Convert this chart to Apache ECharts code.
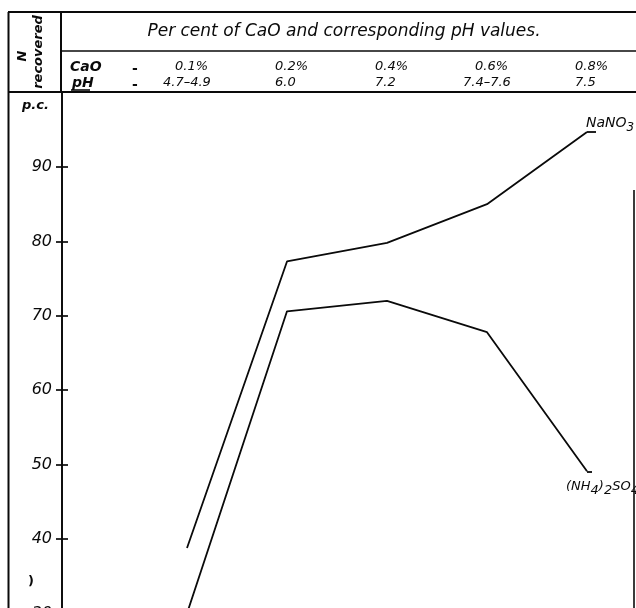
<!DOCTYPE html>
<html><head><meta charset="utf-8">
<script src="https://cdn.jsdelivr.net/npm/echarts@6/dist/echarts.min.js"></script>
<style>html,body{margin:0;padding:0;background:#fff}#c{width:636px;height:608px}</style>
</head><body><div id="c"></div>
<script>
// ---- data ----
const caoLabels = ['0.1%', '0.2%', '0.4%', '0.6%', '0.8%'];
const phLabels = ['4.7–4.9', '6.0', '7.2', '7.4–7.6', '7.5'];
const catIndex = [1, 2, 3, 4, 5];            // evenly spaced positions of the CaO levels
const nano3 = [38.8, 77.3, 79.8, 85.0, 94.7];
const nh4so4 = [30.0, 70.6, 72.0, 67.8, 49.1];
const yTicks = [30, 40, 50, 60, 70, 80, 90];

const INK = '#0a0a0a';
const FONT = 'DejaVu Sans';
const chart = echarts.init(document.getElementById('c'), null, {renderer: 'canvas'});

const pairs = arr => arr.map((v, i) => [catIndex[i], v]);
const lastIdx = catIndex.length - 1;

function yAxisDef(inside, showLabel) {
  return {
    type: 'value', min: 20, max: 100, interval: 10, position: 'left', offset: 0,
    axisLine: {show: true, onZero: false, lineStyle: {color: INK, width: 1.7}},
    axisTick: {show: true, inside: inside, length: 6, customValues: yTicks, lineStyle: {color: INK, width: 1.7}},
    axisLabel: {show: showLabel, customValues: yTicks, margin: 10, color: INK, fontFamily: FONT, fontStyle: 'italic', fontSize: 16},
    splitLine: {show: false}
  };
}

function lineSeries(name, values, stubLen) {
  const last = values[lastIdx];
  return {
    name: name, type: 'line', data: pairs(values), symbol: 'none', smooth: false,
    lineStyle: {color: INK, width: 1.8}, clip: true, silent: true,
    markLine: {
      symbol: 'none', silent: true, animation: false,
      label: {show: false},
      lineStyle: {color: INK, width: 1.8, type: 'solid'},
      data: [[{coord: [catIndex[lastIdx], last]}, {coord: [catIndex[lastIdx] + stubLen, last]}]]
    }
  };
}

chart.setOption({
  animation: false,
  backgroundColor: '#fff',
  grid: {left: 62, top: 92.6, width: 572, height: 595.2, outerBoundsMode: 'none', containLabel: false},
  xAxis: {type: 'value', min: -0.25, max: 5.47, show: false},
  yAxis: [yAxisDef(false, true), yAxisDef(true, false)],
  series: [lineSeries('NaNO3', nano3, 0.09), lineSeries('(NH4)2SO4', nh4so4, 0.05)]
});

function px(i, v) { return chart.convertToPixel({gridIndex: 0}, [catIndex[i], v]); }

const L = (x1, y1, x2, y2, w) => ({type: 'line', shape: {x1, y1, x2, y2}, style: {stroke: INK, lineWidth: w || 2}, silent: true});
const T = (x, y, text, opt) => ({type: 'text', x, y, silent: true, style: Object.assign({
  text, fill: INK, font: 'italic 14px "' + FONT + '"', textAlign: 'left', textVerticalAlign: 'middle'}, opt || {})});

const g = [];
// frame and table rules
g.push(L(8, 12, 636, 12, 2));
g.push(L(8.5, 12, 8.5, 608, 2));
g.push(L(61, 12, 61, 93, 2));
g.push(L(61, 51, 636, 51, 1.6));
g.push(L(8, 92, 636, 92, 2));
g.push(L(634, 190, 634, 608, 1.6));
// header texts
g.push(T(344, 32, 'Per cent of CaO and corresponding pH values.', {textAlign: 'center', font: 'italic 17px "' + FONT + '"'}));
g.push(T(70, 67, 'CaO', {font: 'italic bold 14px "' + FONT + '"'}));
g.push(T(72, 83, 'pH', {font: 'italic bold 14px "' + FONT + '"'}));
g.push(L(71, 90, 90, 90, 1.6));
g.push(T(135, 69, '-', {textAlign: 'center', font: 'bold 14px "' + FONT + '"'}));
g.push(T(135, 85, '-', {textAlign: 'center', font: 'bold 14px "' + FONT + '"'}));
caoLabels.forEach((s, i) => {
  const p = px(i, 50);
  g.push(T(p[0] - 12, 67, s, {font: 'italic 13px "' + FONT + '"'}));
});
phLabels.forEach((s, i) => {
  const p = px(i, 50);
  const off = s.length > 4 ? 24 : 12;
  g.push(T(p[0] - off, 83, s, {font: 'italic 13px "' + FONT + '"'}));
});
// left column rotated caption
g.push({type: 'text', x: 23, y: 56, rotation: Math.PI / 2, silent: true,
  style: {text: 'N', fill: INK, font: 'italic bold 13px "' + FONT + '"', textAlign: 'center', textVerticalAlign: 'middle'}});
g.push({type: 'text', x: 39, y: 52, rotation: Math.PI / 2, silent: true,
  style: {text: 'recovered', fill: INK, font: 'italic bold 13px "' + FONT + '"', textAlign: 'center', textVerticalAlign: 'middle'}});
g.push(T(22, 106, 'p.c.', {font: 'italic bold 13px "' + FONT + '"'}));
g.push(T(28, 582, ')', {font: 'bold 13px "' + FONT + '"'}));
// series labels
const pN = px(lastIdx, nano3[lastIdx]);
g.push({type: 'text', x: pN[0] - 1, y: pN[1] - 19, silent: true,
  style: {text: '{m|NaNO}{s|3}', textAlign: 'left', textVerticalAlign: 'top',
    rich: {m: {fill: INK, font: 'italic 14px "' + FONT + '"'}, s: {fill: INK, font: 'italic 12px "' + FONT + '"', padding: [9, 0, 0, 0]}}}});
const pA = px(lastIdx, nh4so4[lastIdx]);
g.push({type: 'text', x: pA[0] - 21, y: pA[1] + 4, silent: true,
  style: {text: '{m|(NH}{s|4}{m|)}{s|2}{m|SO}{s|4}', textAlign: 'left', textVerticalAlign: 'top',
    rich: {m: {fill: INK, font: 'italic 13px "' + FONT + '"'}, s: {fill: INK, font: 'italic 13px "' + FONT + '"', padding: [9, 0, 0, 0]}}}});

chart.setOption({graphic: g});
</script>
</body></html>
